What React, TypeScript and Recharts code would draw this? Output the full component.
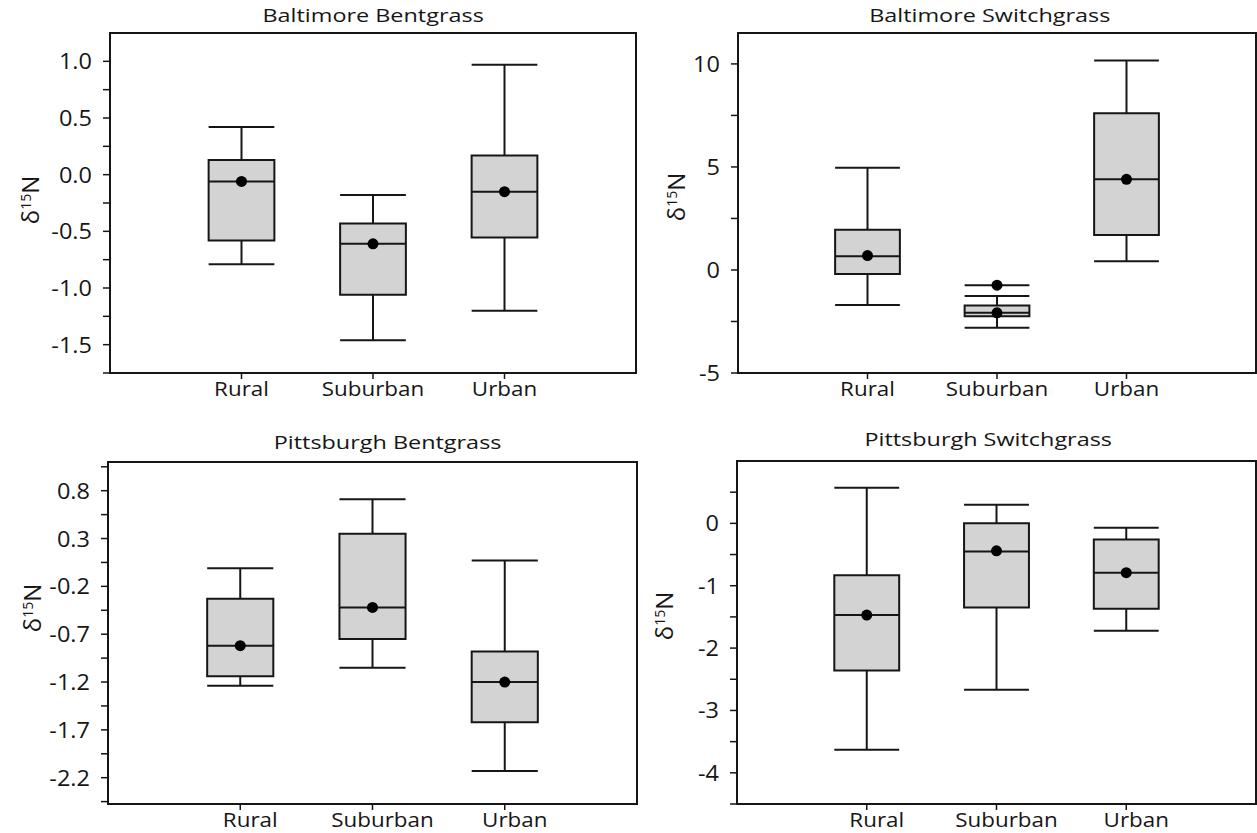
import React from 'react';
import {
  ComposedChart,
  XAxis,
  YAxis,
  Scatter,
  ReferenceArea,
  ReferenceLine,
  ReferenceDot,
} from 'recharts';

const SITES = ['Rural', 'Suburban', 'Urban'];

// Baltimore Bentgrass
const bbLow = [-0.79, -1.46, -1.2];
const bbQ1 = [-0.58, -1.06, -0.555];
const bbMedian = [-0.06, -0.61, -0.15];
const bbQ3 = [0.13, -0.43, 0.17];
const bbHigh = [0.42, -0.18, 0.97];
const bbMean = [-0.06, -0.61, -0.15];
const bbTicks = [1.0, 0.5, 0, -0.5, -1.0, -1.5];
const bbMinor = [0.75, 0.25, -0.25, -0.75, -1.25, -1.75];

// Baltimore Switchgrass
const bsLow = [-1.7, -2.8, 0.42];
const bsQ1 = [-0.2, -2.24, 1.7];
const bsMedian = [0.66, -2.08, 4.4];
const bsQ3 = [1.95, -1.72, 7.6];
const bsHigh = [4.96, -1.26, 10.16];
const bsMean = [0.7, -2.08, 4.4];
const bsOutlier = [null, -0.74, null];
const bsTicks = [10, 5, 0, -5];
const bsMinor = [7.5, 2.5, -2.5];

// Pittsburgh Bentgrass
const pbLow = [-1.24, -1.05, -2.13];
const pbQ1 = [-1.14, -0.75, -1.62];
const pbMedian = [-0.82, -0.42, -1.2];
const pbQ3 = [-0.33, 0.35, -0.88];
const pbHigh = [-0.01, 0.71, 0.07];
const pbMean = [-0.82, -0.42, -1.2];
const pbTicks = [0.8, 0.3, -0.2, -0.7, -1.2, -1.7, -2.2];
const pbMinor = [1.05, 0.55, 0.05, -0.45, -0.95, -1.45, -1.95, -2.45];

// Pittsburgh Switchgrass
const psLow = [-3.63, -2.67, -1.72];
const psQ1 = [-2.36, -1.35, -1.37];
const psMedian = [-1.47, -0.45, -0.79];
const psQ3 = [-0.83, 0.0, -0.26];
const psHigh = [0.57, 0.3, -0.07];
const psMean = [-1.47, -0.44, -0.79];
const psTicks = [0, -1, -2, -3, -4];
const psMinor = [0.5, -0.5, -1.5, -2.5, -3.5, -4.5];

const INK = '#161616';
const BOX_FILL = '#d3d3d3';
const FONT = '"Open Sans", "DejaVu Sans", sans-serif';
const HALF = 0.25;

const YTick = (props: any) => {
  const { x, y, payload, majors, decimals } = props;
  const v = payload.value;
  const isMajor = majors.some((m: number) => Math.abs(m - v) < 1e-6);
  if (!isMajor) return <g />;
  return (
    <text
      transform={`translate(${x},${y}) scale(1.12,1)`}
      textAnchor="end"
      dominantBaseline="central"
      fontSize={21}
      fontFamily={FONT}
      fill={INK}
    >
      {v.toFixed(decimals)}
    </text>
  );
};

const XTick = (props: any) => {
  const { x, y, payload, shift } = props;
  return (
    <text
      transform={`translate(${x + shift},${y}) scale(1.12,1)`}
      textAnchor="middle"
      dy="0.75em"
      fontSize={20}
      fontFamily={FONT}
      fill={INK}
    >
      {SITES[payload.value - 1]}
    </text>
  );
};

interface PanelProps {
  title: string;
  low: number[];
  q1: number[];
  median: number[];
  q3: number[];
  high: number[];
  mean: number[];
  outlier?: (number | null)[];
  yDomain: [number, number];
  majors: number[];
  minors: number[];
  decimals: number;
  left: number;
  top: number;
  width: number;
  height: number;
  margin: { top: number; right: number; bottom: number; left: number };
  yWidth: number;
  xHeight: number;
  shift: number;
  titleAt: [number, number];
  labelAt: [number, number];
}

const BoxPanel: React.FC<PanelProps> = (p) => {
  const points = SITES.map((_, i) => ({ x: i + 1, y: p.mean[i] }));
  const allTicks = [...p.majors, ...p.minors].sort((a, b) => b - a);
  const line = { stroke: INK, strokeWidth: 2 };

  return (
    <>
      <div style={{ position: 'absolute', left: p.left, top: p.top }}>
        <ComposedChart width={p.width} height={p.height} margin={p.margin} data={points}>
          <XAxis
            type="number"
            dataKey="x"
            domain={[0, 4]}
            ticks={[1, 2, 3]}
            interval={0}
            allowDataOverflow
            height={p.xHeight}
            tickSize={6}
            tickMargin={2}
            axisLine={line}
            tickLine={{ stroke: INK, strokeWidth: 1.5 }}
            tick={(tp: any) => <XTick {...tp} shift={p.shift} />}
          />
          <YAxis
            type="number"
            dataKey="y"
            domain={p.yDomain}
            ticks={allTicks}
            interval={0}
            allowDataOverflow
            width={p.yWidth}
            tickSize={7}
            tickMargin={11}
            axisLine={line}
            tickLine={{ stroke: INK, strokeWidth: 1.5 }}
            tick={(tp: any) => <YTick {...tp} majors={p.majors} decimals={p.decimals} />}
          />
          <ReferenceArea
            x1={0}
            x2={4}
            y1={p.yDomain[0]}
            y2={p.yDomain[1]}
            fill="none"
            fillOpacity={0}
            stroke={INK}
            strokeWidth={2}
          />
          {SITES.map((s, i) => {
            const c = i + 1;
            return (
              <React.Fragment key={s}>
                <ReferenceLine segment={[{ x: c, y: p.q3[i] }, { x: c, y: p.high[i] }]} {...line} />
                <ReferenceLine segment={[{ x: c, y: p.low[i] }, { x: c, y: p.q1[i] }]} {...line} />
                <ReferenceLine segment={[{ x: c - HALF, y: p.high[i] }, { x: c + HALF, y: p.high[i] }]} {...line} />
                <ReferenceLine segment={[{ x: c - HALF, y: p.low[i] }, { x: c + HALF, y: p.low[i] }]} {...line} />
                <ReferenceArea
                  x1={c - HALF}
                  x2={c + HALF}
                  y1={p.q1[i]}
                  y2={p.q3[i]}
                  fill={BOX_FILL}
                  fillOpacity={1}
                  stroke={INK}
                  strokeWidth={2}
                />
                <ReferenceLine segment={[{ x: c - HALF, y: p.median[i] }, { x: c + HALF, y: p.median[i] }]} {...line} />
                {p.outlier && p.outlier[i] != null && (
                  <>
                    <ReferenceLine
                      segment={[{ x: c - HALF, y: p.outlier[i] as number }, { x: c + HALF, y: p.outlier[i] as number }]}
                      {...line}
                    />
                    <ReferenceDot x={c} y={p.outlier[i] as number} r={5.5} fill="#000" stroke="none" />
                  </>
                )}
              </React.Fragment>
            );
          })}
          <Scatter
            data={points}
            dataKey="y"
            isAnimationActive={false}
            shape={(sp: any) => <circle cx={sp.cx} cy={sp.cy} r={5.5} fill="#000" />}
          />
        </ComposedChart>
      </div>
      <div
        style={{
          position: 'absolute',
          left: p.titleAt[0] - 200,
          top: p.titleAt[1] - 12,
          width: 400,
          height: 24,
          lineHeight: '24px',
          textAlign: 'center',
          fontFamily: FONT,
          fontSize: 18,
          color: INK,
        }}
      >
        <span style={{ display: 'inline-block', transform: 'scaleX(1.3)' }}>{p.title}</span>
      </div>
      <div
        style={{
          position: 'absolute',
          left: p.labelAt[0] - 50,
          top: p.labelAt[1] - 16,
          width: 100,
          height: 32,
          lineHeight: '32px',
          textAlign: 'center',
          fontFamily: FONT,
          fontSize: 24,
          color: INK,
          transform: 'rotate(-90deg)',
        }}
      >
        δ<span style={{ fontSize: 14, verticalAlign: 'top', lineHeight: '24px' }}>15</span>N
      </div>
    </>
  );
};

export default function App() {
  return (
    <div
      style={{
        position: 'absolute',
        left: 0,
        top: 0,
        width: 1257,
        height: 833,
        background: '#fff',
        overflow: 'hidden',
      }}
    >
      <BoxPanel
        title="Baltimore Bentgrass"
        low={bbLow}
        q1={bbQ1}
        median={bbMedian}
        q3={bbQ3}
        high={bbHigh}
        mean={bbMean}
        yDomain={[-1.75, 1.25]}
        majors={bbTicks}
        minors={bbMinor}
        decimals={1}
        left={0}
        top={0}
        width={640}
        height={410}
        margin={{ top: 33, right: 4, bottom: 7, left: 0 }}
        yWidth={110}
        xHeight={30}
        shift={0}
        titleAt={[373, 15]}
        labelAt={[30, 200]}
      />
      <BoxPanel
        title="Baltimore Switchgrass"
        low={bsLow}
        q1={bsQ1}
        median={bsMedian}
        q3={bsQ3}
        high={bsHigh}
        mean={bsMean}
        outlier={bsOutlier}
        yDomain={[-5, 11.5]}
        majors={bsTicks}
        minors={bsMinor}
        decimals={0}
        left={630}
        top={0}
        width={627}
        height={410}
        margin={{ top: 33, right: 1, bottom: 7, left: 0 }}
        yWidth={108}
        xHeight={30}
        shift={0}
        titleAt={[990, 15]}
        labelAt={[676, 197]}
      />
      <BoxPanel
        title="Pittsburgh Bentgrass"
        low={pbLow}
        q1={pbQ1}
        median={pbMedian}
        q3={pbQ3}
        high={pbHigh}
        mean={pbMean}
        yDomain={[-2.475, 1.1]}
        majors={pbTicks}
        minors={pbMinor}
        decimals={1}
        left={0}
        top={410}
        width={640}
        height={423}
        margin={{ top: 52, right: 3, bottom: 0, left: 0 }}
        yWidth={108}
        xHeight={29}
        shift={10}
        titleAt={[388, 442]}
        labelAt={[32, 608]}
      />
      <BoxPanel
        title="Pittsburgh Switchgrass"
        low={psLow}
        q1={psQ1}
        median={psMedian}
        q3={psQ3}
        high={psHigh}
        mean={psMean}
        yDomain={[-4.5, 1]}
        majors={psTicks}
        minors={psMinor}
        decimals={0}
        left={630}
        top={410}
        width={627}
        height={423}
        margin={{ top: 51, right: 1, bottom: 0, left: 0 }}
        yWidth={107}
        xHeight={29}
        shift={10}
        titleAt={[988, 439]}
        labelAt={[664, 616]}
      />
    </div>
  );
}
